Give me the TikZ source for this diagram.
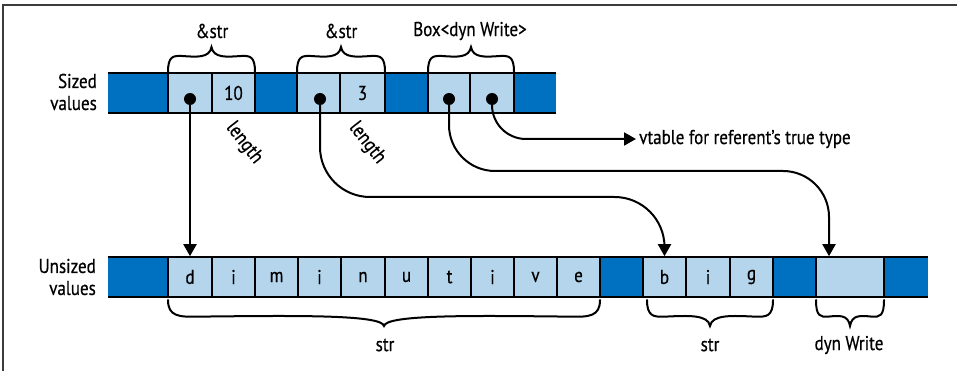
\documentclass[tikz,border=0pt]{standalone}
\usepackage{fontspec}
\setmainfont{PT Sans}[FakeStretch=0.85, FakeBold=0.5]
\usetikzlibrary{arrows.meta}
\definecolor{darkblue}{RGB}{0,112,192}
\definecolor{lightblue}{RGB}{180,213,235}
\definecolor{framegray}{RGB}{60,60,60}
\newcommand\hbrace[5]{% x1, x2, y0, h (signed: negative = up), curl
  \pgfmathsetmacro\bm{(#1+#2)/2}
  \draw[bracestyle] (#1,#3) .. controls (#1,#3+0.62*#4) and (#1+0.35*#5,#3+0.66*#4) .. (#1+#5,#3+0.64*#4)
    .. controls (#1+#5+0.5*\bm-0.5*#1-0.5*#5,#3+0.6*#4) and (\bm-2,#3+0.55*#4) .. (\bm,#3+#4)
    .. controls (\bm+2,#3+0.55*#4) and (#2-#5-0.5*#2+0.5*\bm+0.5*#5,#3+0.6*#4) .. (#2-#5,#3+0.64*#4)
    .. controls (#2-0.35*#5,#3+0.66*#4) and (#2,#3+0.62*#4) .. (#2,#3);
}
\tikzset{
  lcell/.style={draw=black, line width=1.6pt, fill=lightblue, inner sep=0pt, minimum height=40pt, font=\fontsize{20}{22}\selectfont},
  dcell/.style={fill=darkblue, inner sep=0pt, minimum height=40pt},
  rowline/.style={line width=2.2pt, black},
  dot/.style={circle, fill=black, inner sep=0pt, minimum size=12pt},
  arr/.style={line width=2pt, -{Triangle[width=13pt,length=12pt]}},
  bracestyle/.style={line width=2pt, line cap=round},
  lbl/.style={font=\fontsize{20}{22}\selectfont, inner sep=0pt},
  rowlbl/.style={font=\fontsize{20}{22}\selectfont, align=right, anchor=east, inner sep=0pt},
}
\begin{document}
\begin{tikzpicture}[x=1pt, y=-1pt]
\useasboundingbox (0,0) rectangle (957,371);
% frame
\draw[framegray, line width=1.5pt] (3,371) -- (3,5) -- (958,5);

% ---------- sized row ----------
\node[dcell, minimum width=448pt] (srow) at (332,93) {};
\node[lcell, minimum width=44pt] (sa1) at (190,93) {};
\node[lcell, minimum width=43pt] (sa2) at (233.5,93) {10};
\node[lcell, minimum width=43pt] (sb1) at (318.5,93) {};
\node[lcell, minimum width=45pt] (sb2) at (362.5,93) {3};
\node[lcell, minimum width=42pt] (sc1) at (449,93) {};
\node[lcell, minimum width=44pt] (sc2) at (492,93) {};
\draw[rowline] (srow.north west) -- (srow.north east);
\draw[rowline] (srow.south west) -- (srow.south east);

% ---------- unsized row ----------
\node[dcell, minimum width=820pt] (urow) at (518,277) {};
\node[lcell, minimum width=44pt] (u1) at (190,277) {d};
\node[lcell, minimum width=43pt] (u2) at (233.5,277) {i};
\node[lcell, minimum width=43pt] (u3) at (276.5,277) {m};
\node[lcell, minimum width=43pt] (u4) at (319.5,277) {i};
\node[lcell, minimum width=44pt] (u5) at (363,277) {n};
\node[lcell, minimum width=43pt] (u6) at (406.5,277) {u};
\node[lcell, minimum width=43pt] (u7) at (449.5,277) {t};
\node[lcell, minimum width=43pt] (u8) at (492.5,277) {i};
\node[lcell, minimum width=43pt] (u9) at (535.5,277) {v};
\node[lcell, minimum width=43pt] (u10) at (578.5,277) {e};
\node[lcell, minimum width=43pt] (b1) at (664.5,277) {b};
\node[lcell, minimum width=44pt] (b2) at (708,277) {i};
\node[lcell, minimum width=43pt] (b3) at (751.5,277) {g};
\node[lcell, minimum width=68pt] (dyn) at (850,277) {};
\draw[rowline] (urow.north west) -- (urow.north east);
\draw[rowline] (urow.south west) -- (urow.south east);

% ---------- row labels ----------
\node[rowlbl] (lsized) at (97,92) {Sized\\values};
\node[rowlbl] (lunsized) at (96,277) {Unsized\\values};

% ---------- top braces ----------
\hbrace{168}{255}{72}{-25}{14}
\hbrace{297}{385}{72}{-25}{14}
\hbrace{428}{514}{72}{-25}{14}
\node[lbl] (t1) at (212,31) {\&str};
\node[lbl] (t2) at (341,31) {\&str};
\node[lbl] (t3) at (470,31) {Box<dyn Write>};

% ---------- bottom braces ----------
\hbrace{168}{600}{300}{26}{30}
\hbrace{647}{773}{300}{26}{18}
\hbrace{816}{884}{300}{26}{12}
\node[lbl] (s1) at (385,345) {str};
\node[lbl] (s2) at (710,345) {str};
\node[lbl] (s3) at (849,345) {dyn Write};

% ---------- length labels ----------
\node[lbl, rotate=-52] (len1) at (244,143) {length};
\node[lbl, rotate=-52] (len2) at (367,143) {length};

% ---------- vtable ----------
\node[lbl, anchor=west, inner sep=3pt] (vt) at (636,139) {vtable for referent's true type};

% ---------- dots ----------
\node[dot] (d1) at (190,99) {};
\node[dot] (d2) at (320,99) {};
\node[dot] (d3) at (449,99) {};
\node[dot] (d4) at (492,99) {};

% ---------- arrows ----------
\draw[arr] (d1.center) -- (u1.north);
\draw[arr, rounded corners=50pt] (d2.center) -- (d2.center |- 0,197) -| (b1.north);
\draw[arr, rounded corners=46pt] (d3.center) -- (d3.center |- 0,171) -| ([xshift=-21pt]dyn.north);
\draw[arr, rounded corners=34pt] (d4.center) |- (vt.west);
\end{tikzpicture}
\end{document}
